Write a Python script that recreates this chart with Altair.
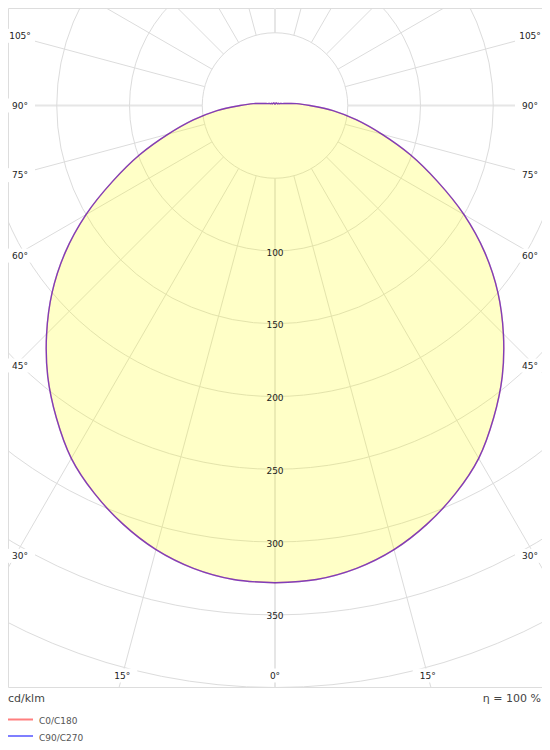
import math
import altair as alt
import pandas as pd

# ---------------- data ----------------
gamma_deg = [0, 5, 10, 15, 20, 25, 30, 35, 40, 45, 50, 55, 60, 65, 70, 75, 80, 85, 90,
             95, 100, 105, 110, 115, 120, 125, 130, 135, 140, 145, 150, 155, 160, 165,
             170, 175, 180]
c0_c180 = [328, 327, 323, 316, 306, 294, 280, 262, 243, 222, 200, 176, 150, 123, 99, 76,
           57, 40, 24, 15, 8, 5, 4, 3, 3, 2, 2, 2, 2, 2, 2, 2, 1.5, 1.5, 1.5, 1, 0.5]
c90_c270 = [328, 327, 323, 316, 306, 294, 280, 262, 243, 222, 200, 176, 150, 123, 99, 76,
            57, 40, 24, 15, 8, 5, 4, 3, 3, 2, 2, 2, 2, 2, 2, 2, 1.5, 1.5, 1.5, 1, 0.5]
series_names = ["C0/C180", "C90/C270"]
series_colors = ["#ff0000", "#0000ff"]

ring_cd = [50, 100, 150, 200, 250, 300, 350, 400, 450]
ring_label_cd = [100, 150, 200, 250, 300, 350]
spoke_deg = list(range(0, 360, 15))
side_label_deg = [30, 45, 60, 75, 90, 105]
bottom_label_deg = [-15, 0, 15]
unit_text = "cd/klm"
eff_text = "η = 100 %"

# ---------------- layout ----------------
W, H = 534, 679          # framed polar panel
FOOT = 55                # room below for texts + legend
CX, CY = 267, 97.5       # pole position inside panel (px)
PX = 1.455               # px per cd/klm
FONT = "DejaVu Sans"

XS = alt.Scale(domain=[-CX / PX, (W - CX) / PX], nice=False, zero=False)
YS = alt.Scale(domain=[(CY - H) / PX, CY / PX], nice=False, zero=False)

def X(f):
    return alt.X(f, type="quantitative", scale=XS, axis=None)

def Y(f):
    return alt.Y(f, type="quantitative", scale=YS, axis=None)

# curve table
rows = []
for name, vals in zip(series_names, [c0_c180, c90_c270]):
    k = 0
    pairs = list(zip(gamma_deg, vals))
    for side, seq in ((-1, pairs[::-1]), (1, pairs)):
        for g, v in seq:
            rows.append(dict(series=name, gamma=g, I=v, side=side, ord=k))
            k += 1
curve = pd.DataFrame(rows)

spokes = pd.DataFrame({"a": spoke_deg})
spokes["major"] = spokes["a"] % 90 == 0
spokes["r0"] = 50
spokes["r1"] = 600

rings = pd.DataFrame({"r": ring_cd, "c": 0})
ring_labels = pd.DataFrame({"v": ring_label_cd, "c": 0})
ring_labels["yv"] = -ring_labels["v"]

SIDE_X_PX, SIDE_Y_PX, BOTTOM_PX = 255, 260, 570
lab = []
for g in side_label_deg:
    for s in (-1, 1):
        lab.append(dict(lx=s * SIDE_X_PX / PX,
                        ly=-(SIDE_Y_PX / PX) / math.tan(math.radians(g)),
                        t=f"{g}°"))
for g in bottom_label_deg:
    lab.append(dict(lx=(BOTTOM_PX / PX) * math.tan(math.radians(g)),
                    ly=-BOTTOM_PX / PX, t=f"{abs(g)}°"))
edge_labels = pd.DataFrame(lab)

calc_curve = dict(px="datum.side*datum.I*sin(datum.gamma*PI/180)",
                  py="-datum.I*cos(datum.gamma*PI/180)")
calc_spoke = dict(x1="datum.r0*sin(datum.a*PI/180)", y1="-datum.r0*cos(datum.a*PI/180)",
                  x2="datum.r1*sin(datum.a*PI/180)", y2="-datum.r1*cos(datum.a*PI/180)")

spoke_base = alt.Chart(spokes).transform_calculate(**calc_spoke)
minor_spokes = spoke_base.transform_filter("!datum.major").mark_rule(
    clip=True, color="#dcdcdc", strokeWidth=1
).encode(x=X("x1"), y=Y("y1"), x2="x2:Q", y2="y2:Q")
major_spokes = spoke_base.transform_filter("datum.major").mark_rule(
    clip=True, color="#e6e6e6", strokeWidth=2
).encode(x=X("x1"), y=Y("y1"), x2="x2:Q", y2="y2:Q")

# rings: circle symbols whose diameter follows the radial scale (px per cd)
ring_layer = alt.Chart(rings).transform_calculate(
    s=f"pow(2*datum.r*{PX}, 2)"
).mark_point(
    clip=True, shape="circle", filled=False, stroke="#dcdcdc", strokeWidth=1, opacity=1
).encode(x=X("c"), y=Y("c"), size=alt.Size("s:Q", scale=None, legend=None))

fill_layer = alt.Chart(curve).transform_filter(
    alt.datum.series == series_names[0]
).transform_calculate(**calc_curve).mark_line(
    fill="#ffff00", fillOpacity=0.22, strokeOpacity=0, interpolate="catmull-rom"
).encode(x=X("px"), y=Y("py"), order="ord:Q")

line_layer = alt.Chart(curve).transform_calculate(**calc_curve).mark_line(
    strokeWidth=1.4, strokeOpacity=0.5, interpolate="catmull-rom"
).encode(
    x=X("px"), y=Y("py"), order="ord:Q",
    color=alt.Color("series:N", scale=alt.Scale(domain=series_names, range=series_colors),
                    legend=None),
)

label_bg = alt.Chart(edge_labels).mark_rect(
    color="white", xOffset=-15, x2Offset=15, yOffset=-7, y2Offset=7
).encode(x=X("lx"), x2="lx:Q", y=Y("ly"), y2="ly:Q")
label_txt = alt.Chart(edge_labels).mark_text(
    font=FONT, fontSize=9, color="#222222", align="center", baseline="middle"
).encode(x=X("lx"), y=Y("ly"), text="t:N")

ring_txt = alt.Chart(ring_labels).mark_text(
    font=FONT, fontSize=9, color="#222222", align="center", baseline="middle", dy=1.5
).encode(x=X("c"), y=Y("yv"), text="v:Q")

unit_layer = alt.Chart(pd.DataFrame({"t": [unit_text]})).mark_text(
    font=FONT, fontSize=11, color="#444444", align="left", baseline="middle"
).encode(x=alt.value(0), y=alt.value(690.5), text="t:N")
eff_layer = alt.Chart(pd.DataFrame({"t": [eff_text]})).mark_text(
    font=FONT, fontSize=11, color="#444444", align="right", baseline="middle"
).encode(x=alt.value(533), y=alt.value(690.5), text="t:N")

legend_layers = []
for i, (name, col) in enumerate(zip(series_names, series_colors)):
    yl = 711.5 + 16.5 * i
    legend_layers.append(
        alt.Chart(pd.DataFrame({"t": [name]})).mark_rule(
            color=col, strokeOpacity=0.5, strokeWidth=2
        ).encode(x=alt.value(0), x2=alt.value(25), y=alt.value(yl))
    )
    legend_layers.append(
        alt.Chart(pd.DataFrame({"t": [name]})).mark_text(
            font=FONT, fontSize=9, color="#555555", align="left", baseline="middle"
        ).encode(x=alt.value(31), y=alt.value(yl + 1.5), text="t:N")
    )

chart = alt.layer(
    minor_spokes, major_spokes, ring_layer, fill_layer, line_layer,
    label_bg, label_txt, ring_txt, unit_layer, eff_layer, *legend_layers
).properties(
    width=W, height=H,
    padding={"left": 0, "top": 0, "right": 0, "bottom": FOOT},
    autosize=alt.AutoSizeParams(type="none"),
).configure_view(stroke="#999999", strokeWidth=2).configure(background="white")

chart.save("out.html", embed_options={"renderer": "svg", "actions": False})
